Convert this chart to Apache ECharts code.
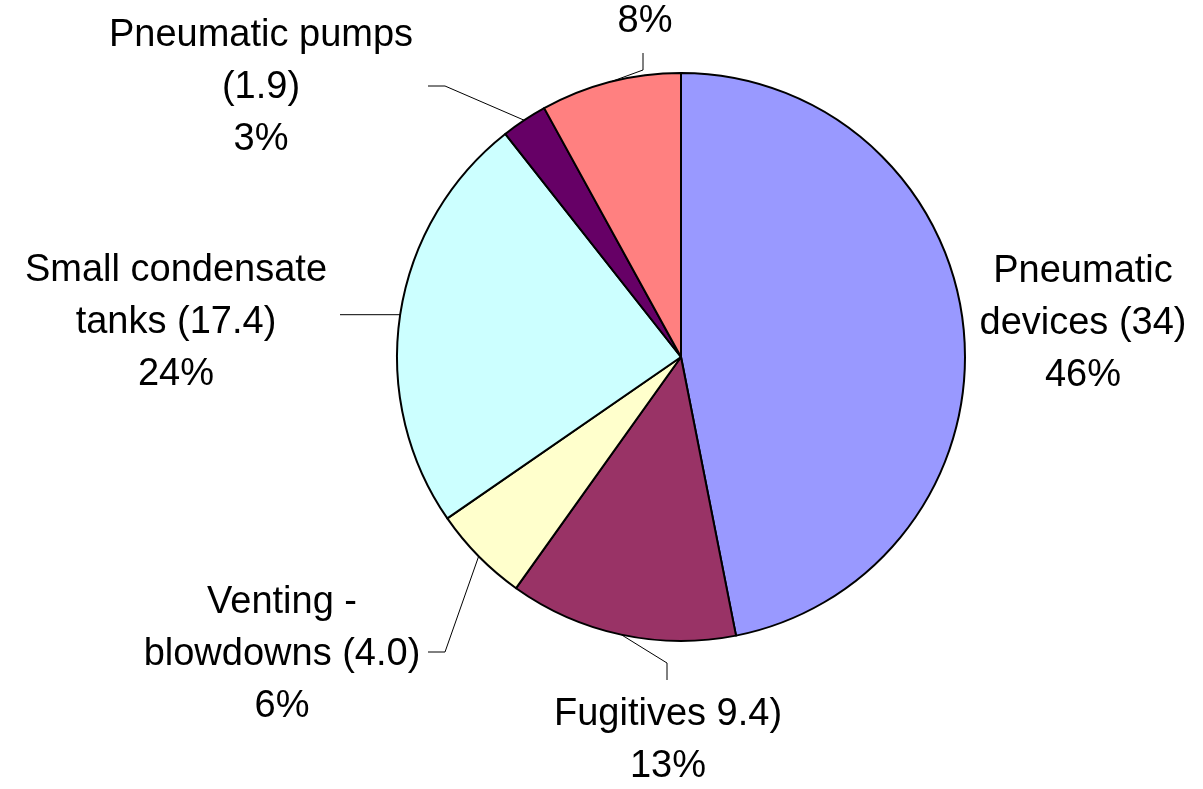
<!DOCTYPE html>
<html>
<head>
<meta charset="utf-8">
<script src="https://cdn.jsdelivr.net/npm/echarts@6/dist/echarts.min.js"></script>
<style>
html,body{margin:0;padding:0;background:#ffffff;}
#chart{width:1203px;height:789px;}
</style>
</head>
<body>
<div id="chart"></div>
<script>
// ---- data ----
const categories = ['Pneumatic devices', 'Fugitives', 'Venting - blowdowns', 'Small condensate tanks', 'Pneumatic pumps', 'Other'];
const values = [34, 9.4, 4.0, 17.4, 1.9, 5.8];
const labelTexts = [
  ['Pneumatic', 'devices (34)', '46%'],
  ['Fugitives 9.4)', '13%'],
  ['Venting -', 'blowdowns (4.0)', '6%'],
  ['Small condensate', 'tanks (17.4)', '24%'],
  ['Pneumatic pumps', '(1.9)', '3%'],
  ['8%']
];
const colors = ['#9999FF', '#993366', '#FFFFCC', '#CCFFFF', '#660066', '#FF8080'];

// ---- layout (label anchors and leader-line bends, in pixels; null y = keep start y) ----
const labelAnchors = [[1083, 324], [668, 741], [282, 655], [176, 323], [261, 88], [645, 22]];
const leaderBends = [null, [[667, 663], [667, 680]], [[445, 652], [428, 652]], [[340, null]], [[445, 86], [428, 86]], [[643, 70], [643, 53]]];

const chart = echarts.init(document.getElementById('chart'), null, {renderer: 'canvas'});

const data = categories.map((name, i) => ({
  name: name,
  value: values[i],
  itemStyle: {color: colors[i]},
  labelLine: {show: leaderBends[i] !== null}
}));

chart.setOption({
  backgroundColor: '#ffffff',
  animation: false,
  series: [{
    type: 'pie',
    center: [681, 357],
    radius: [0, 284],
    startAngle: 90,
    clockwise: true,
    avoidLabelOverlap: false,
    minShowLabelAngle: 0,
    itemStyle: {borderColor: '#000000', borderWidth: 2},
    label: {
      show: true,
      position: 'outside',
      color: '#000000',
      fontFamily: '"Liberation Sans", Arial, sans-serif',
      fontSize: 38,
      lineHeight: 52,
      align: 'center',
      formatter: function (p) { return labelTexts[p.dataIndex].join('\n'); }
    },
    labelLine: {
      show: true,
      length: 10,
      length2: 10,
      lineStyle: {color: '#000000', width: 1}
    },
    labelLayout: function (params) {
      const i = params.dataIndex;
      const a = labelAnchors[i];
      const res = {x: a[0], y: a[1], align: 'center', verticalAlign: 'middle'};
      if (leaderBends[i] && params.labelLinePoints) {
        const start = params.labelLinePoints[0];
        const rest = leaderBends[i].map(p => [p[0], p[1] === null ? start[1] : p[1]]);
        res.labelLinePoints = [start].concat(rest);
      }
      return res;
    },
    emphasis: {disabled: true},
    data: data
  }]
});
</script>
</body>
</html>
